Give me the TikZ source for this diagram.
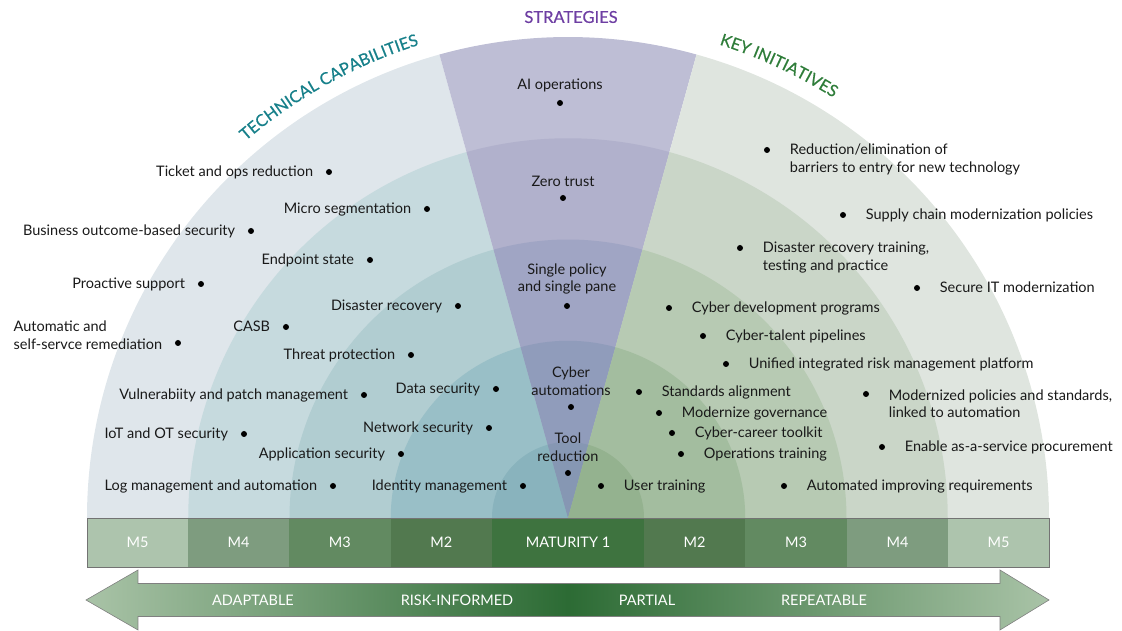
\documentclass[tikz,border=0pt]{standalone}
\usepackage{fontspec}
\setmainfont{Lato}
\newfontfamily\titlefamily[FakeBold=0.5]{Lato}
\usepackage{tikz}
\usetikzlibrary{positioning,decorations.text}

\definecolor{capE}{HTML}{DFE6EB}
\definecolor{capD}{HTML}{C6DADE}
\definecolor{capC}{HTML}{B1CDD1}
\definecolor{capB}{HTML}{99BFC7}
\definecolor{capA}{HTML}{89B3BD}
\definecolor{strE}{HTML}{BEBED5}
\definecolor{strD}{HTML}{B1B1CC}
\definecolor{strC}{HTML}{A0A5C4}
\definecolor{strB}{HTML}{909CBB}
\definecolor{strA}{HTML}{8697B3}
\definecolor{iniE}{HTML}{DFE5DF}
\definecolor{iniD}{HTML}{CAD6C8}
\definecolor{iniC}{HTML}{B7CAB3}
\definecolor{iniB}{HTML}{A3BD9F}
\definecolor{iniA}{HTML}{94B28F}
\definecolor{barE}{HTML}{ADC4AD}
\definecolor{barD}{HTML}{7E9C7F}
\definecolor{barC}{HTML}{628A61}
\definecolor{barB}{HTML}{52794F}
\definecolor{barA}{HTML}{3E733F}
\definecolor{arrE}{HTML}{A9C3A7}
\definecolor{arrA}{HTML}{2C6B34}
\definecolor{capteal}{HTML}{17808A}
\definecolor{strpurple}{HTML}{6E3FA3}
\definecolor{inigreen}{HTML}{2F7D3A}
\newcommand{\titlesize}{\titlefamily\fontsize{16.5}{19}\selectfont}

\begin{document}
\begin{tikzpicture}[x=1pt, y=1pt,
    dot/.style={circle, fill=black, inner sep=0pt, minimum size=6pt},
    item/.style={inner sep=0pt, text=black!90, font=\fontsize{14.5}{17.5}\selectfont, text height=11.3pt, text depth=3pt},
    itemtwo/.style={inner sep=0pt, text=black!90, font=\fontsize{14.5}{17.5}\selectfont},
    barlabel/.style={text=white, font=\fontsize{14.5}{16}\selectfont},
    title/.style={font=\titlesize}]
  \useasboundingbox (-568,-113) rectangle (554,518);

  % rings
  \foreach \r/\lc/\pc/\rc in {481/capE/strE/iniE, 379.75/capD/strD/iniD, 278.5/capC/strC/iniC, 177.25/capB/strB/iniB, 76/capA/strA/iniA} {
    \fill [\lc] (0,0) -- (105.5:\r) arc [start angle=105.5, end angle=180, radius=\r] -- cycle;
    \fill [\pc] (0,0) -- (74.5:\r) arc [start angle=74.5, end angle=105.5, radius=\r] -- cycle;
    \fill [\rc] (0,0) -- (0:\r) arc [start angle=0, end angle=74.5, radius=\r] -- cycle;
  }

  % titles
  \node [title, text=strpurple] (strategies) at (3,501) {STRATEGIES};
  \path [decorate, decoration={text along path, text align=center,
      text={|\titlesize\color{capteal}|TECHNICAL CAPABILITIES}}]
    (135:496) arc [start angle=135, end angle=103, radius=496];
  \path [decorate, decoration={text along path, text align=center,
      text={|\titlesize\color{inigreen}|KEY INITIATIVES}}]
    (75:497) arc [start angle=75, end angle=55, radius=497];

  % technical capabilities
  \foreach \x/\y/\txt [count=\i] in {-239/346/Ticket and ops reduction, -141/309/Micro segmentation,
      -317/287/Business outcome-based security, -198/258/Endpoint state, -367/234/Proactive support,
      -110/212/Disaster recovery, -282/191/CASB, -157/163/Threat protection,
      -204/123/Vulnerabiity and patch management, -72/129/Data security, -324/84/IoT and OT security,
      -79/90/Network security, -167/64/Application security, -235/32/Log management and automation,
      -45/32/Identity management} {
    \node [dot] (capdot-\i) at (\x,\y) {};
    \node [item, left=12.5pt of capdot-\i] (cap-\i) {\txt};
  }
  \node [dot] (capdot-16) at (-390,175) {};
  \node [itemtwo, align=left, left=12.5pt of capdot-16, yshift=8pt] (cap-16) {Automatic and\\self-servce remediation};

  % strategies
  \foreach \x/\y/\txt [count=\i] in {-8/415/AI operations, -5/320/Zero trust, -1/212/{Single policy\\and single pane},
      3/111/{Cyber\\automations}, 0/45/{Tool\\reduction}} {
    \node [dot] (strdot-\i) at (\x,\y) {};
    \node [itemtwo, align=center, above=8pt of strdot-\i] (str-\i) {\txt};
  }

  % key initiatives
  \foreach \x/\y/\txt [count=\i] in {275/303/Supply chain modernization policies, 349/230/Secure IT modernization,
      101/210/Cyber development programs, 135/182/Cyber-talent pipelines,
      158/154/Unified integrated risk management platform, 71/126/Standards alignment,
      91/105/Modernize governance, 104/85/Cyber-career toolkit, 314/71/Enable as-a-service procurement,
      113/64/Operations training, 33/32/User training, 216/32/Automated improving requirements} {
    \node [dot] (inidot-\i) at (\x,\y) {};
    \node [item, right=19.5pt of inidot-\i] (ini-\i) {\txt};
  }
  \node [dot] (inidot-13) at (199,368) {};
  \node [itemtwo, align=left, right=19.5pt of inidot-13, yshift=-9.5pt] (ini-13) {Reduction/elimination of\\barriers to entry for new technology};
  \node [dot] (inidot-14) at (172,270) {};
  \node [itemtwo, align=left, right=19.5pt of inidot-14, yshift=-9.5pt] (ini-14) {Disaster recovery training,\\testing and practice};
  \node [dot] (inidot-15) at (298,124) {};
  \node [itemtwo, align=left, right=19.5pt of inidot-15, yshift=-9.5pt] (ini-15) {Modernized policies and standards,\\linked to automation};

  % maturity bar
  \foreach \a/\b/\c/\t [count=\i] in {-481/-380/barE/M5, -380/-279/barD/M4, -279/-177.25/barC/M3,
      -177.25/-76/barB/M2, -76/76/barA/MATURITY 1, 76/177.25/barB/M2, 177.25/279/barC/M3,
      279/380/barD/M4, 380/481/barE/M5} {
    \fill [\c] (\a,-49) rectangle (\b,0);
    \node [barlabel] (bar-\i) at ({(\a+\b)/2},-24.5) {\t};
  }
  \draw [black!55, line width=0.8pt] (-481,-49) rectangle (481,0);

  % arrow
  \shadedraw [left color=arrE, right color=arrE, middle color=arrA, draw=black!50, line width=0.6pt]
    (-482,-82) -- (-430,-52) -- (-430,-65.5) -- (432,-65.5) -- (432,-52) -- (481,-82)
    -- (432,-112) -- (432,-98.5) -- (-430,-98.5) -- (-430,-112) -- cycle;
  \foreach \x/\t [count=\i] in {-315/ADAPTABLE, -111/RISK-INFORMED, 79/PARTIAL, 256/REPEATABLE}
    \node [barlabel] (stage-\i) at (\x,-82) {\t};
\end{tikzpicture}
\end{document}
